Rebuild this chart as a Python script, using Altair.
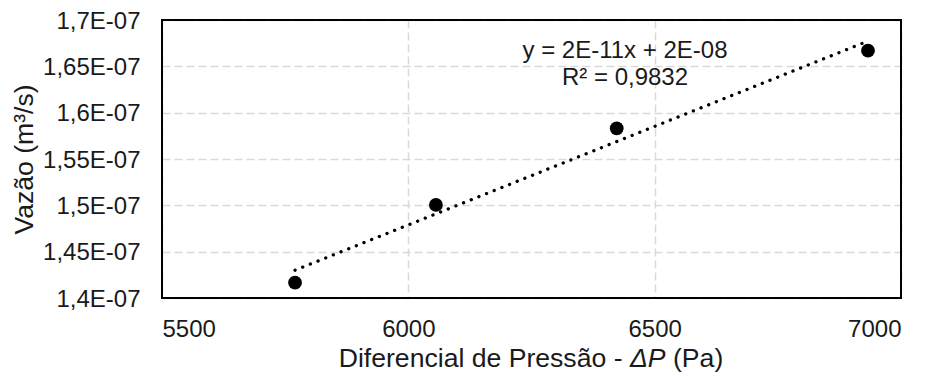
import altair as alt
import pandas as pd

# Measured flow rate against pressure differential
pressure_pa = [5770, 6056, 6423, 6933]
flow_m3s = [1.4165e-07, 1.5004e-07, 1.5831e-07, 1.6669e-07]

x_ticks = [5500, 6000, 6500, 7000]
y_ticks = [1.40e-07, 1.45e-07, 1.50e-07, 1.55e-07, 1.60e-07, 1.65e-07, 1.70e-07]

trend_lines = ["y = 2E-11x + 2E-08", "R² = 0,9832"]
x_title_parts = ["Diferencial de Pressão -", "ΔP", "(Pa)"]
y_title = "Vazão (m³/s)"

df = pd.DataFrame({"dp": pressure_pa, "q": flow_m3s})

FONT = "Liberation Sans"
TEXT = "#1a1a1a"
GRID = "#d9d9d9"
LABEL_SIZE = 24
TITLE_SIZE = 26.6
W, H = 739, 278

x_enc = alt.X(
    "dp:Q",
    scale=alt.Scale(domain=[5500, 7000], nice=False, zero=False),
    axis=alt.Axis(
        values=x_ticks,
        format="d",
        title=None,
        grid=True,
        gridColor=GRID,
        gridDash=[8, 4],
        gridWidth=1.5,
        domain=False,
        ticks=False,
        labelPadding=19,
    ),
)
y_enc = alt.Y(
    "q:Q",
    scale=alt.Scale(domain=[1.4e-07, 1.7e-07], nice=False, zero=False),
    axis=alt.Axis(
        values=y_ticks,
        labelExpr="replace(format(datum.value * 1e7, '.3~f'), '.', ',') + 'E-07'",
        title=y_title,
        titleX=-138,
        titleBaseline="middle",
        grid=True,
        gridColor=GRID,
        gridDash=[8, 4],
        gridWidth=1.5,
        domain=False,
        ticks=False,
        labelPadding=22,
        labelOffset=1,
    ),
)

base = alt.Chart(df)

# dotted linear trendline fitted over the measured range
trend = (
    base.transform_regression("dp", "q")
    .mark_line(color="black", strokeWidth=3.3, strokeDash=[0.1, 8.15], strokeCap="round")
    .encode(x=x_enc, y=y_enc)
)

points = base.mark_circle(size=190, color="black", opacity=1).encode(x=x_enc, y=y_enc)

# solid frame around the plot area, drawn above the edge gridlines
frame = (
    alt.Chart(pd.DataFrame({"k": [0]}))
    .mark_rect(fill=None, stroke="black", strokeWidth=2)
    .encode(x=alt.value(0), x2=alt.value(W), y=alt.value(0), y2=alt.value(H))
)

# trendline equation and R², stacked and centred
eq_layers = [
    alt.Chart(pd.DataFrame({"t": [line]}))
    .mark_text(font=FONT, fontSize=LABEL_SIZE, color=TEXT, align="center", baseline="alphabetic")
    .encode(text="t:N", x=alt.value(463), y=alt.value(38 + 27 * i))
    for i, line in enumerate(trend_lines)
]

# x-axis title built from pieces so that ΔP can be set in italics
title_specs = [
    (x_title_parts[0], "right", "normal", 460.5),
    (x_title_parts[1], "left", "italic", 468),
    (x_title_parts[2], "left", "normal", 511),
]
x_title_layers = [
    alt.Chart(pd.DataFrame({"t": [txt]}))
    .mark_text(
        font=FONT,
        fontSize=TITLE_SIZE,
        fontStyle=style,
        color=TEXT,
        align=align,
        baseline="alphabetic",
    )
    .encode(text="t:N", x=alt.value(xpos), y=alt.value(347))
    for txt, align, style, xpos in title_specs
]

chart = (
    alt.layer(trend, points, frame, *eq_layers, *x_title_layers)
    .properties(
        width=W,
        height=H,
        autosize=alt.AutoSizeParams(type="none"),
        padding={"left": 162, "top": 20, "right": 30, "bottom": 78},
        background="white",
    )
    .configure_view(stroke=None)
    .configure_axis(
        labelFont=FONT,
        labelFontSize=LABEL_SIZE,
        labelColor=TEXT,
        titleFont=FONT,
        titleFontSize=TITLE_SIZE,
        titleFontWeight="normal",
        titleColor=TEXT,
    )
)

chart.save("out.html", embed_options={"renderer": "svg", "actions": False})
